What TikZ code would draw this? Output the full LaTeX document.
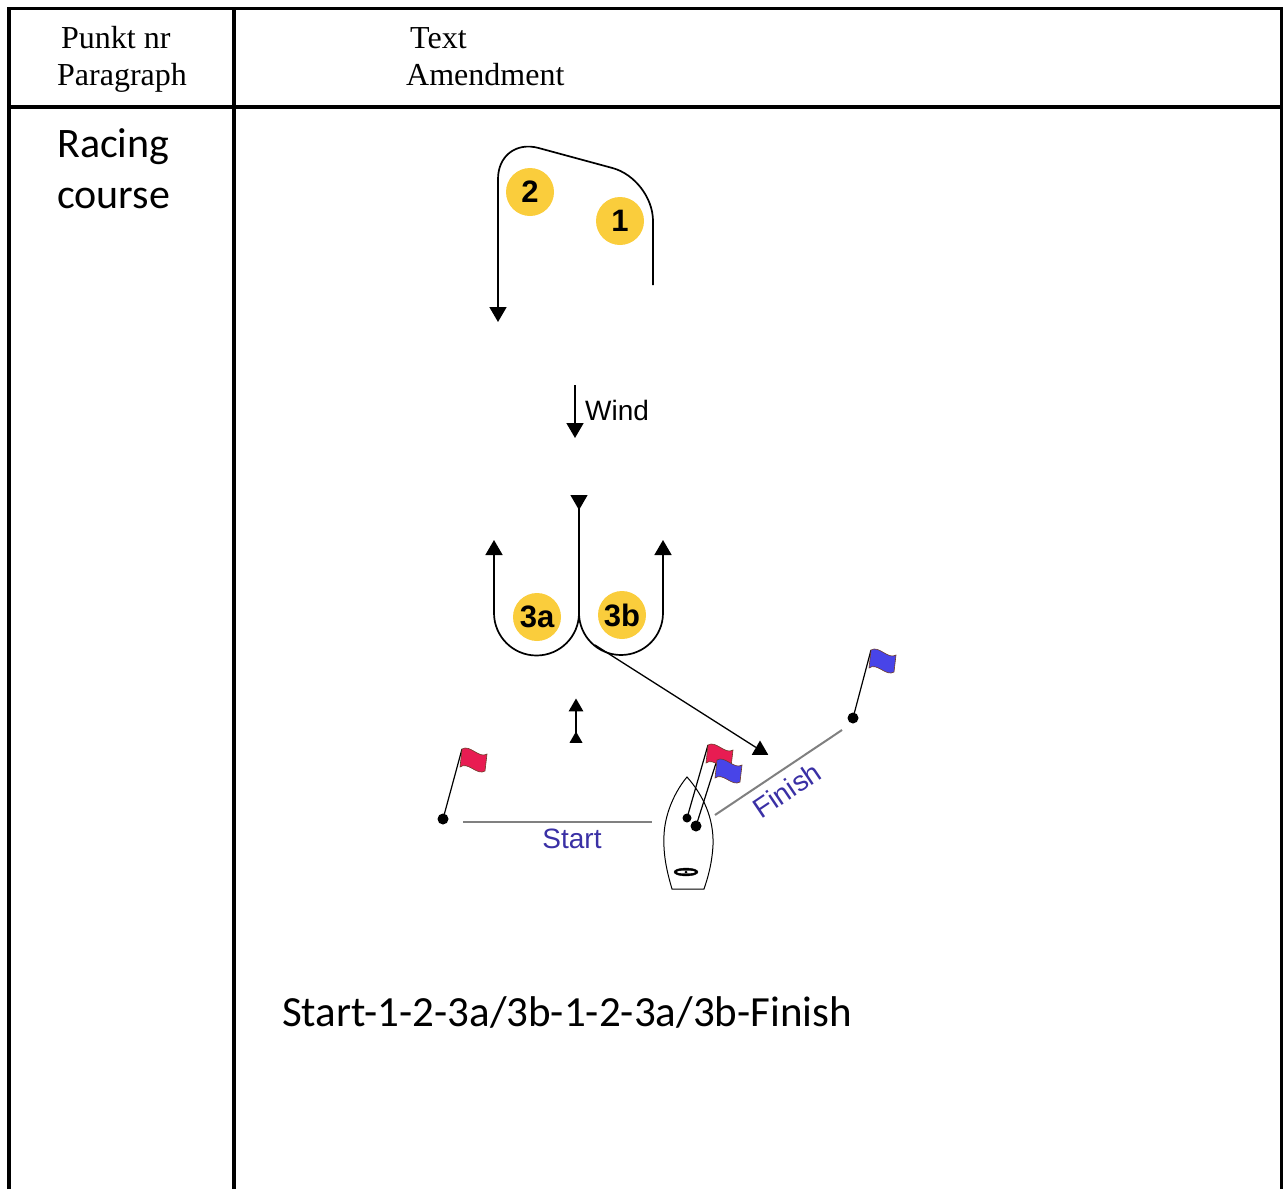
\documentclass[tikz,border=0pt]{standalone}
\usepackage{fontspec}
\setmainfont{Liberation Serif}
\newfontfamily\calibrifont{Carlito}
\newfontfamily\arialfont{Liberation Sans}
\usetikzlibrary{arrows.meta,shapes.geometric}
\definecolor{markyellow}{RGB}{250,205,60}
\definecolor{flagred}{RGB}{232,28,82}
\definecolor{flagblue}{RGB}{72,68,232}
\definecolor{lineblue}{RGB}{58,48,165}
\definecolor{flagedge}{RGB}{110,60,40}

\begin{document}
\begin{tikzpicture}[x=1pt,y=-1pt,
  tableline/.style={line width=3.5pt},
  headtext/.style={anchor=base west,inner sep=0pt,font=\fontsize{32}{32}\selectfont},
  bigtext/.style={anchor=base west,inner sep=0pt,font=\calibrifont\fontsize{42}{42}\selectfont},
  courseline/.style={line width=1.7pt},
  tip/.style={-{Triangle[width=17pt,length=15pt]}},
  tri/.style={regular polygon,regular polygon sides=3,fill,inner sep=0pt,minimum size=#1},
  roundmark/.style={circle,fill=markyellow,minimum size=48pt,inner sep=0pt,font=\arialfont\bfseries\fontsize{31}{31}\selectfont},
  buoy/.style={circle,fill=black,inner sep=0pt,minimum size=#1},
  pole/.style={line width=1.2pt},
  flag/.style={draw=flagedge,line width=0.6pt},
  gateline/.style={gray,line width=2pt},
  gatetext/.style={inner sep=0pt,text=lineblue,font=\arialfont\fontsize{28}{28}\selectfont}]
\useasboundingbox (0,0) rectangle (1284,1189);

% table
\draw[tableline] (9,1189) -- (9,8.5) -- (1281.5,8.5) -- (1281.5,1189);
\draw[tableline] (9,107) -- (1281.5,107);
\draw[tableline] (234,8.5) -- (234,1189);
\node[headtext] (punkt) at (61,48) {Punkt nr};
\node[headtext] (para) at (57,85) {Paragraph};
\node[headtext] (text) at (410,48) {Text};
\node[headtext] (amend) at (406,85) {Amendment};
\node[bigtext] (racing) at (57,157) {Racing};
\node[bigtext] (coursetxt) at (57,208) {course};
\node[bigtext,font=\calibrifont\fontsize{43}{43}\selectfont] (order) at (282,1026) {Start-1-2-3a/3b-1-2-3a/3b-Finish};

% upwind loop round 1 and 2
\draw[courseline,tip,rounded corners=42pt] (653,285) -- (653,179) -- (498,137) -- (498,322);

% wind
\coordinate (windtop) at (575,385);
\coordinate (windend) at (575,438);
\draw[courseline,tip] (windtop) -- (windend);
\node[anchor=base west,inner sep=0pt,font=\arialfont\fontsize{28}{28}\selectfont] (wind) at (585,420) {Wind};

% gate 3a/3b
\node[tri=20pt,shape border rotate=180] (downtip) at (579,500) {};
\coordinate (ujoin) at (579,613);
\draw[courseline] (downtip.center) -- (ujoin);
\draw[courseline,tip,rounded corners=42.5pt] (ujoin) -- (579,655.5) -- (494,655.5) -- (494,540);
\draw[courseline,tip,rounded corners=42pt] (ujoin) -- (579,655) -- (663,655) -- (663,540);
\coordinate (turn) at (595,645);
\node[tri=19pt] (gatetip) at (760,750) {};
\draw[line width=1.3pt] (turn) -- (gatetip);

% little double arrow
\node[tri=17pt] (uptip) at (576,707) {};
\node[tri=15pt] (lowtip) at (576,739) {};
\draw[courseline] (lowtip.center) -- (uptip);

% marks
\node[roundmark] (m2) at (530,192) {2};
\node[roundmark] (m1) at (620,221) {1};
\node[roundmark] (m3a) at (537,617) {3a};
\node[roundmark] (m3b) at (622,615) {3b};

% start and finish lines
\coordinate (startL) at (463,822);
\coordinate (startR) at (652,822);
\draw[gateline] (startL) -- (startR);
\node[gatetext,anchor=base] (starttxt) at (572,848) {Start};
\coordinate (finL) at (715,815);
\coordinate (finR) at (842,730);
\draw[gateline] (finL) -- (finR);
\node[gatetext,rotate=34] (fintxt) at (787,790) {Finish};

% committee boat
\draw[line width=1pt] (687,777) .. controls (703,795) and (714,818) .. (713,845)
  .. controls (712,865) and (707,880) .. (704,889) -- (672,889)
  .. controls (667,872) and (663,855) .. (664,835)
  .. controls (665,812) and (676,790) .. (687,777) -- cycle;
\filldraw (686,872) ellipse [x radius=12, y radius=4];
\fill[white] (686,872) ellipse [x radius=9, y radius=1.5];
\fill (686,872) circle [radius=1.5];

% flags
\node[buoy=11pt] (pinstart) at (443,819) {};
\node[buoy=9pt] (boatred) at (687,818) {};
\node[buoy=11pt] (boatblue) at (696,826) {};
\node[buoy=11pt] (pinfinish) at (853,718) {};
\draw[pole] (pinstart.center) -- (462,749);
\draw[pole] (boatred.center) -- (708,745);
\draw[pole] (boatblue.center) -- (717,760);
\draw[pole] (pinfinish.center) -- (871,650);
\foreach \fx/\fy/\fc in {462/749/flagred, 708/745/flagred, 717/760/flagblue, 871/650/flagblue}
  \filldraw[flag,fill=\fc,shift={(\fx,\fy)}] (0,0) .. controls (8,-5) and (17,10) .. (25,5)
    -- (23,22) .. controls (15,27) and (6,12) .. (-2,18) -- cycle;
\end{tikzpicture}
\end{document}
